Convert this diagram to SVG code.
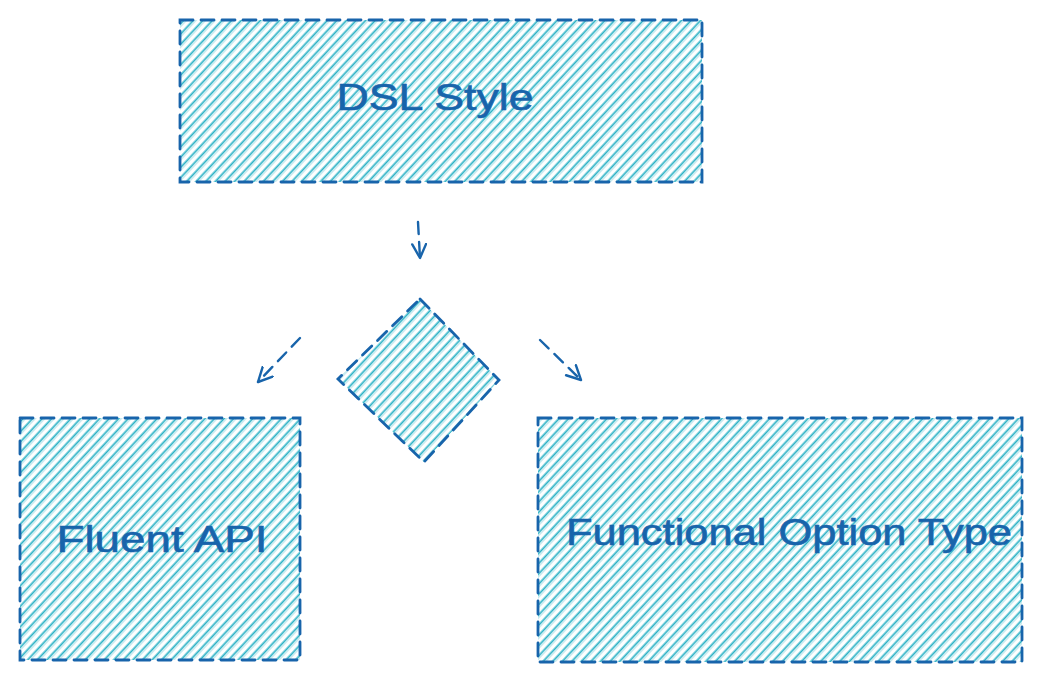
<svg xmlns="http://www.w3.org/2000/svg" width="1040" height="680" viewBox="0 0 1040 680">
<style>
.box{fill:url(#hatch);stroke:#1864ab;stroke-width:2.8;stroke-dasharray:13 8;stroke-linecap:round}
.lbl{font-family:"Liberation Sans","DejaVu Sans",sans-serif;font-size:36px;fill:#1864ab;stroke:#1864ab;stroke-width:0.6;text-anchor:middle}
.conn{fill:none;stroke:#1864ab;stroke-width:2.4;stroke-dasharray:12 8;stroke-linecap:round}
</style>
<defs>
<pattern id="hatch" patternUnits="userSpaceOnUse" width="20" height="7" patternTransform="rotate(-47)">
<rect width="20" height="7" fill="#ffffff"/>
<line x1="0" y1="1.2" x2="20" y2="1.2" stroke="#15aabf" stroke-width="1.4"/>
<line x1="0" y1="3" x2="20" y2="3" stroke="#15aabf" stroke-width="0.6" opacity="0.8"/>
</pattern>
<marker id="arr" markerUnits="userSpaceOnUse" markerWidth="18" markerHeight="18" refX="15" refY="8" orient="auto">
<path d="M1,1 L15,8 L1,15" fill="none" stroke="#1864ab" stroke-width="2.4" stroke-linecap="round" stroke-linejoin="round" stroke-dasharray="none"/>
</marker>
</defs>
<g id="connectors">
<path class="conn" d="M418,222 L420,258" marker-end="url(#arr)"/>
<path class="conn" d="M300,338 L258,382" marker-end="url(#arr)"/>
<path class="conn" d="M540,340 L581,380" marker-end="url(#arr)"/>
</g>
<g id="dsl">
<rect class="box" x="180" y="20" width="522" height="162"/>
<text class="lbl" x="435" y="110" textLength="197" lengthAdjust="spacingAndGlyphs">DSL Style</text>
</g>
<g id="decision">
<path class="box" d="M420,299 L499,380 L424,462 L338,379 Z"/>
</g>
<g id="fluent">
<rect class="box" x="20" y="418" width="280" height="242"/>
<text class="lbl" x="162" y="552" textLength="211" lengthAdjust="spacingAndGlyphs">Fluent API</text>
</g>
<g id="functional">
<rect class="box" x="538" y="418" width="484" height="244"/>
<text class="lbl" x="789" y="545" textLength="446" lengthAdjust="spacingAndGlyphs">Functional Option Type</text>
</g>
</svg>
